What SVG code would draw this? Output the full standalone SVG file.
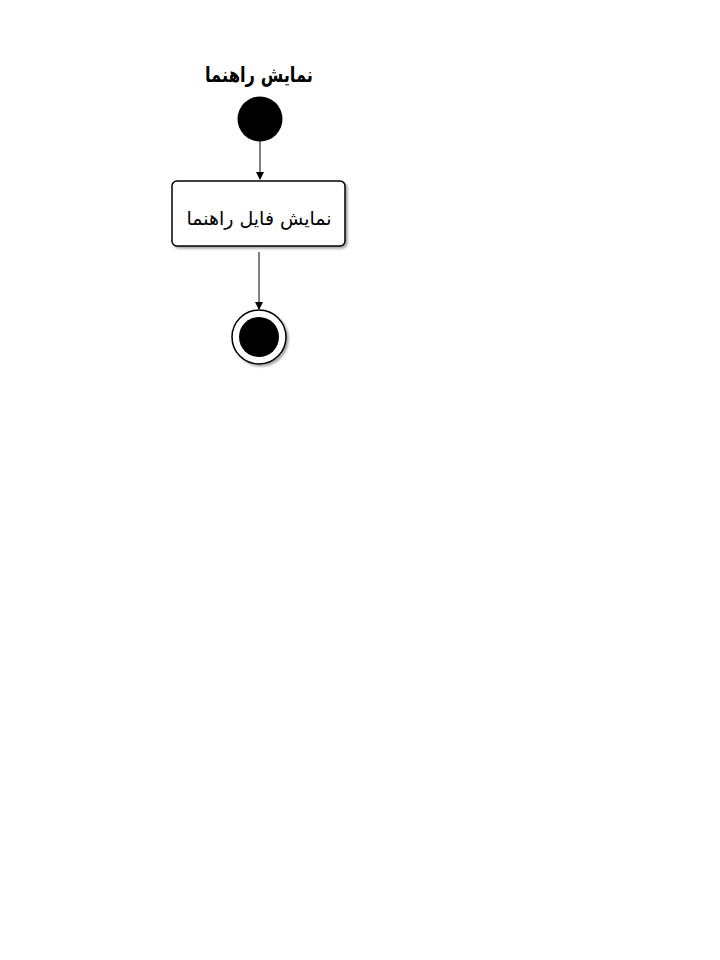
<svg xmlns="http://www.w3.org/2000/svg" width="720" height="960" viewBox="0 0 720 960">
<style>
.t{font-family:"DejaVu Sans","Noto Sans",sans-serif;fill:#000;text-anchor:middle}
.edge{stroke:#000;stroke-width:1;fill:none;marker-end:url(#ah)}
</style>
<defs>
<marker id="ah" markerWidth="8" markerHeight="8" refX="7" refY="4" orient="auto" markerUnits="userSpaceOnUse">
<path d="M0,0 L8,4 L0,8 Z" fill="#000"/>
</marker>
<filter id="sh" x="-10%" y="-10%" width="130%" height="140%">
<feDropShadow dx="2" dy="2" stdDeviation="1.2" flood-color="#000" flood-opacity="0.35"/>
</filter>
</defs>
<rect width="720" height="960" fill="#fff"/>
<g id="title">
<text class="t" x="259" y="82" font-size="21" font-weight="bold" direction="rtl" textLength="108" lengthAdjust="spacingAndGlyphs">نمایش راهنما</text>
</g>
<g id="start">
<circle cx="260" cy="119" r="22.5" fill="#000"/>
</g>
<g id="action">
<rect x="172" y="181" width="173" height="65" rx="5" fill="#fff" stroke="#000" stroke-width="1.5" filter="url(#sh)"/>
<text class="t" x="259" y="225" font-size="19" direction="rtl">نمایش فایل راهنما</text>
</g>
<g id="end">
<circle cx="259" cy="337" r="27" fill="#fff" stroke="#000" stroke-width="1.5" filter="url(#sh)"/>
<circle cx="259" cy="337" r="20" fill="#000"/>
</g>
<g id="connectors">
<path class="edge" d="M260,141 L260,179"/>
<path class="edge" d="M259,252 L259,309"/>
</g>
</svg>
